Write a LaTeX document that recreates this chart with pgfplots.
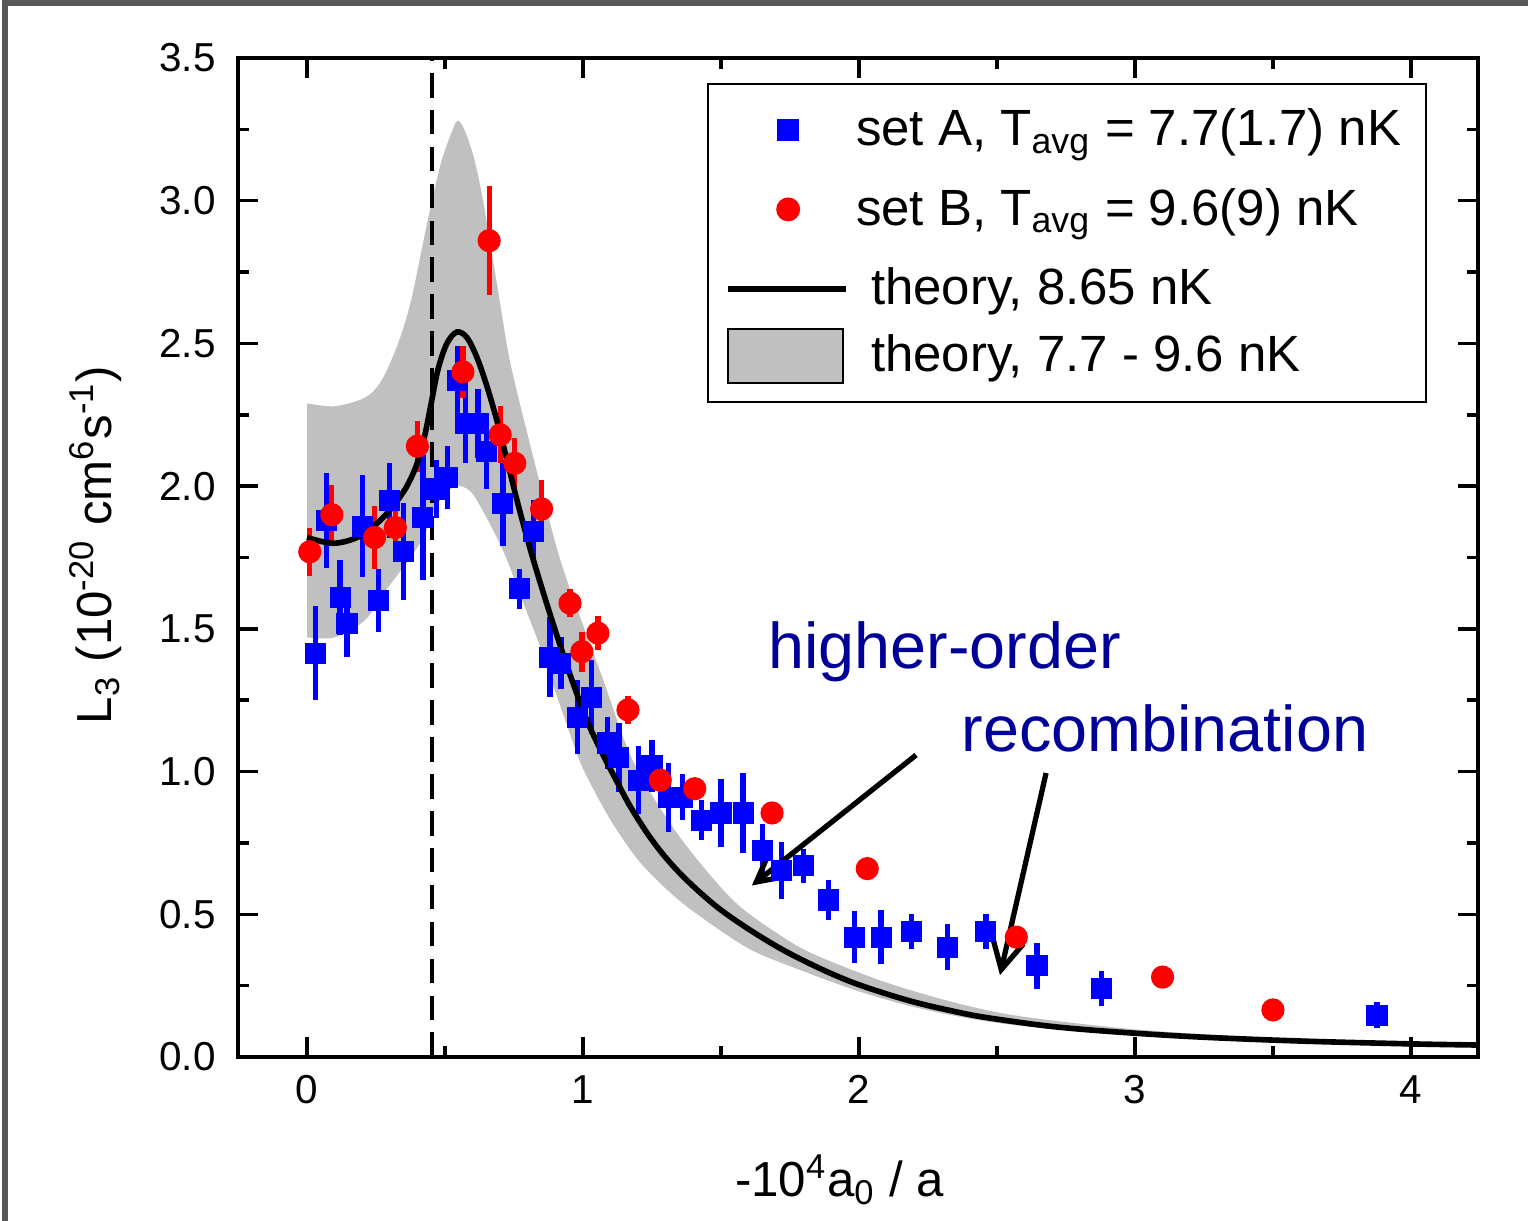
\documentclass[border=0pt]{standalone}
\usepackage{fontspec}
\setmainfont{Liberation Sans}
\usepackage{pgfplots}
\pgfplotsset{compat=1.18}
\usepgfplotslibrary{fillbetween}
\usetikzlibrary{arrows.meta}

\definecolor{bandgray}{RGB}{192,192,192}
\definecolor{annot}{RGB}{0,0,153}

\begin{document}
\begin{tikzpicture}
\begin{axis}[
  at={(0,0)}, anchor=south west,
  scale only axis,
  width=12.40cm, height=9.99cm,
  xmin=-0.25, xmax=4.243,
  ymin=0, ymax=3.5,
  xtick={0,1,2,3,4},
  ytick={0,0.5,...,3.5},
  minor x tick num=1,
  minor y tick num=1,
  tick align=inside,
  major tick length=0.2cm,
  minor tick length=0.11cm,
  tick style={black, line width=1pt},
  axis line style={line width=1.2pt},
  /pgf/number format/assume math mode=true,
  tick label style={font=\fontsize{11.5}{13}\selectfont},
  yticklabel style={xshift=-0.1cm, /pgf/number format/fixed,
    /pgf/number format/fixed zerofill, /pgf/number format/precision=1},
  xticklabel style={yshift=-0.06cm},
  xlabel={-10\textsuperscript{4}a\textsubscript{0} / a},
  ylabel={L\textsubscript{3} (10\textsuperscript{-20} cm\textsuperscript{6}s\textsuperscript{-1})},
  label style={font=\fontsize{14}{16}\selectfont},
  xlabel style={at={(axis description cs:0.485,-0.123)}, anchor=center},
  ylabel style={at={(axis description cs:-0.115,0.5125)}, anchor=center, rotate=0},
  legend style={at={(0.378,0.975)}, anchor=north west, draw=black, line width=0.6pt,
    font=\fontsize{14.5}{17}\selectfont, inner xsep=5pt, inner ysep=5pt, row sep=3pt},
  legend cell align=left,
  error bars/error mark=none,
]
% gray band, theory 7.7 - 9.6 nK
\addplot[name path=up, draw=none, smooth, forget plot] coordinates {
  (0,2.29) (0.1,2.28) (0.21,2.31) (0.27,2.37) (0.33,2.50) (0.377,2.65)
  (0.435,2.92) (0.482,3.12) (0.52,3.23) (0.545,3.28) (0.57,3.25) (0.605,3.15)
  (0.638,3.0) (0.688,2.71) (0.735,2.44) (0.797,2.19) (0.844,2.01) (0.906,1.78)
  (0.96,1.62) (1.07,1.33) (1.18,1.04) (1.34,0.785) (1.543,0.55) (1.725,0.42)
  (1.848,0.355) (2.087,0.265) (2.33,0.195) (2.57,0.145) (3.0,0.097) (3.5,0.067)
  (4.243,0.047)
};
\addplot[name path=lo, draw=none, smooth, forget plot] coordinates {
  (0,1.47) (0.1,1.47) (0.21,1.53) (0.29,1.64) (0.39,1.77) (0.44,1.86)
  (0.475,1.94) (0.536,2.0) (0.594,1.98) (0.656,1.88) (0.717,1.76) (0.78,1.6)
  (0.84,1.45) (0.9,1.28) (0.95,1.14) (1.0,1.01) (1.1,0.83) (1.2,0.69)
  (1.3,0.59) (1.4,0.51) (1.6,0.38) (1.8,0.30) (2.0,0.23) (2.2,0.175)
  (2.4,0.135) (2.6,0.108) (3.0,0.076) (3.5,0.053) (4.243,0.038)
};
\addplot[bandgray, draw=none, forget plot] fill between[of=up and lo];
% dashed marker
\addplot[black, line width=1.3pt, dash pattern=on 7pt off 3.5pt, forget plot]
  coordinates {(0.453,0) (0.453,3.5)};
% set A
\addplot[only marks, mark=square*, mark size=2.8pt, blue,
  mark options={draw=blue, fill=blue}, forget plot,
  error bars/.cd, y dir=both, y explicit,
  error bar style={line width=1.5pt, blue}]
  coordinates {
  (0.03,1.415) +- (0,0.165) (0.07,1.88) +- (0,0.165) (0.12,1.61) +- (0,0.13)
  (0.145,1.52) +- (0,0.12) (0.20,1.86) +- (0,0.18) (0.26,1.60) +- (0,0.11)
  (0.30,1.95) +- (0,0.13) (0.35,1.77) +- (0,0.17) (0.42,1.89) +- (0,0.22)
  (0.47,1.99) +- (0,0.10) (0.51,2.03) +- (0,0.11) (0.545,2.37) +- (0,0.12)
  (0.575,2.22) +- (0,0.14) (0.62,2.22) +- (0,0.12) (0.65,2.12) +- (0,0.13)
  (0.71,1.94) +- (0,0.15) (0.77,1.64) +- (0,0.07) (0.82,1.84) +- (0,0.11)
  (0.88,1.40) +- (0,0.14) (0.92,1.38) +- (0,0.09) (0.98,1.19) +- (0,0.13)
  (1.03,1.26) +- (0,0.13) (1.09,1.10) +- (0,0.09) (1.13,1.05) +- (0,0.12)
  (1.20,0.97) +- (0,0.12) (1.25,1.02) +- (0,0.09) (1.31,0.91) +- (0,0.12)
  (1.36,0.91) +- (0,0.08) (1.43,0.83) +- (0,0.07) (1.50,0.855) +- (0,0.12)
  (1.58,0.855) +- (0,0.14) (1.65,0.725) +- (0,0.09) (1.72,0.655) +- (0,0.10)
  (1.80,0.67) +- (0,0.06) (1.89,0.55) +- (0,0.07) (1.985,0.42) +- (0,0.09)
  (2.08,0.42) +- (0,0.095) (2.19,0.44) +- (0,0.06) (2.32,0.385) +- (0,0.08)
  (2.46,0.44) +- (0,0.06) (2.645,0.32) +- (0,0.08) (2.88,0.24) +- (0,0.06)
  (3.877,0.147) +- (0,0.045)
};
% set B
\addplot[only marks, mark=*, mark size=3.1pt, red,
  mark options={draw=red, fill=red}, forget plot,
  error bars/.cd, y dir=both, y explicit,
  error bar style={line width=1.5pt, red}]
  coordinates {
  (0.01,1.77) +- (0,0.085) (0.09,1.90) +- (0,0.105) (0.245,1.82) +- (0,0.11)
  (0.32,1.855) +- (0,0.105) (0.40,2.14) +- (0,0.09) (0.565,2.40) +- (0,0.09)
  (0.66,2.86) +- (0,0.19) (0.70,2.18) +- (0,0.10) (0.753,2.08) +- (0,0.09)
  (0.85,1.92) +- (0,0.10) (0.953,1.59) +- (0,0.05) (0.996,1.42) +- (0,0.07)
  (1.054,1.485) +- (0,0.06) (1.163,1.216) +- (0,0.05) (1.28,0.97) +- (0,0.04)
  (1.405,0.94) +- (0,0.03) (1.685,0.855) +- (0,0.03) (2.03,0.66) +- (0,0.02)
  (2.57,0.42) +- (0,0.02) (3.10,0.28) +- (0,0.02) (3.50,0.165) +- (0,0.02)
};
% theory 8.65 nK
\addplot[black, line width=1.6pt, smooth, tension=0.55, forget plot] coordinates {
  (0,1.82) (0.094,1.80) (0.181,1.82) (0.254,1.87) (0.312,1.93) (0.362,2.00)
  (0.399,2.08) (0.425,2.17) (0.45,2.29) (0.475,2.41) (0.507,2.50)
  (0.543,2.54) (0.580,2.52) (0.616,2.45) (0.652,2.35) (0.688,2.23) (0.725,2.09)
  (0.761,1.95) (0.797,1.82) (0.833,1.70) (0.891,1.52) (0.953,1.34) (1.014,1.18)
  (1.072,1.06) (1.123,0.965) (1.170,0.88) (1.232,0.785) (1.290,0.71) (1.35,0.645)
  (1.42,0.58) (1.5,0.515) (1.605,0.445) (1.725,0.375) (1.848,0.315) (1.967,0.265)
  (2.09,0.224) (2.21,0.19) (2.33,0.163) (2.45,0.14) (2.69,0.108) (2.93,0.088)
  (3.235,0.07) (3.6,0.056) (4.0,0.046) (4.243,0.042)
};
% legend
\addlegendimage{legend image code/.code={
  \path[draw=none, fill=none] (0cm,-0.41cm) -- (0cm,0.1cm);
  \draw[blue, mark=square*, mark size=2.8pt, mark options={draw=blue, fill=blue}]
    plot coordinates {(0.6cm,0cm)};}}
\addlegendentry{set A, T\textsubscript{avg} = 7.7(1.7) nK}
\addlegendimage{legend image code/.code={
  \path[draw=none, fill=none] (0cm,-0.41cm) -- (0cm,0.1cm);
  \draw[red, mark=*, mark size=3.1pt, mark options={draw=red, fill=red}]
    plot coordinates {(0.6cm,0cm)};}}
\addlegendentry{set B, T\textsubscript{avg} = 9.6(9) nK}
\addlegendimage{legend image code/.code={
  \draw[black, line width=1.6pt] (0cm,0cm) -- (1.18cm,0cm);}}
\addlegendentry{\hspace{0.15cm}theory, 8.65 nK}
\addlegendimage{legend image code/.code={
  \draw[black, line width=0.6pt, fill=bandgray] (0cm,-0.27cm) rectangle (1.15cm,0.27cm);}}
\addlegendentry{\hspace{0.15cm}theory, 7.7 - 9.6 nK}
% annotation
\node[text=annot, font=\fontsize{18.4}{22}\selectfont] at (axis cs:2.31,1.42) {higher-order};
\node[text=annot, font=\fontsize{18.4}{22}\selectfont] at (axis cs:3.109,1.153) {recombination};
\draw[-{Straight Barb[length=8.5pt,width=9pt]}, line width=1.5pt]
  (axis cs:2.207,1.058) -- (axis cs:1.612,0.601);
\draw[-{Straight Barb[length=8.5pt,width=9pt]}, line width=1.5pt]
  (axis cs:2.678,0.995) -- (axis cs:2.511,0.287);
\end{axis}
\pgfresetboundingbox
\path[use as bounding box] (-2.38,-1.63) rectangle (12.90,10.57);
\draw[line width=1.5pt, black!65] (-2.33,-2) -- (-2.33,10.54) -- (13.2,10.54);
\end{tikzpicture}
\end{document}
